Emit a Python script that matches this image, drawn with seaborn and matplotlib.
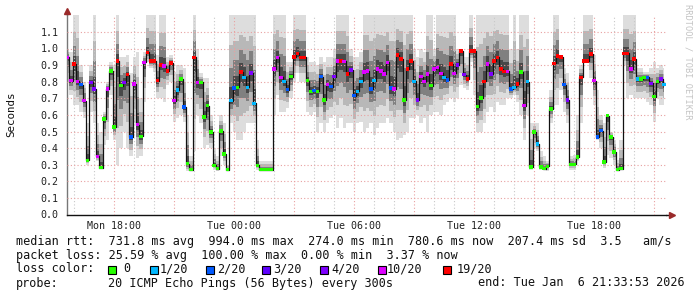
import numpy as np
import pandas as pd
import matplotlib
matplotlib.use("Agg")
import matplotlib.pyplot as plt
import seaborn as sns
from matplotlib.patches import Rectangle
from matplotlib.ticker import MultipleLocator, FuncFormatter
from matplotlib.lines import Line2D

# ---------------- data ----------------
START_H = 15.665          # first sample, hours since Mon 00:00
STEP_H = 1.0 / 6.0        # 10-minute samples

median_s = [
    0.946, 0.806, 0.906, 0.802, 0.782, 0.686, 0.326, 0.796, 0.756, 0.350, 0.282, 0.576,
    0.756, 0.866, 0.526, 0.926, 0.776, 0.796, 0.842, 0.466, 0.786, 0.542, 0.470, 0.916,
    0.976, 0.926, 0.926, 0.806, 0.902, 0.896, 0.866, 0.912, 0.686, 0.750, 0.816, 0.646,
    0.306, 0.270, 0.946, 0.796, 0.796, 0.586, 0.656, 0.496, 0.296, 0.276, 0.502, 0.366,
    0.270, 0.686, 0.762, 0.766, 0.860, 0.826, 0.766, 0.852, 0.670, 0.296, 0.270, 0.270,
    0.270, 0.270, 0.876, 0.946, 0.826, 0.802, 0.752, 0.830, 0.950, 0.970, 0.946, 0.946,
    0.806, 0.742, 0.746, 0.742, 0.830, 0.690, 0.782, 0.770, 0.830, 0.926, 0.926, 0.922,
    0.846, 0.872, 0.716, 0.742, 0.802, 0.860, 0.866, 0.756, 0.806, 0.876, 0.866, 0.846,
    0.916, 0.762, 0.756, 0.962, 0.936, 0.690, 0.876, 0.926, 0.802, 0.690, 0.830, 0.802,
    0.846, 0.776, 0.876, 0.886, 0.850, 0.826, 0.810, 0.906, 0.850, 0.902, 0.986, 0.842,
    0.816, 0.986, 0.986, 0.650, 0.702, 0.802, 0.906, 0.846, 0.926, 0.946, 0.876, 0.862,
    0.862, 0.756, 0.766, 0.786, 0.860, 0.656, 0.800, 0.286, 0.496, 0.426, 0.286, 0.276,
    0.290, 0.636, 0.910, 0.956, 0.950, 0.782, 0.690, 0.302, 0.302, 0.346, 0.826, 0.926,
    0.926, 0.966, 0.806, 0.466, 0.506, 0.316, 0.596, 0.466, 0.376, 0.270, 0.276, 0.970,
    0.970, 0.876, 0.936, 0.816, 0.816, 0.826, 0.826, 0.790, 0.710, 0.800, 0.816, 0.782,
]

loss_idx = [
    5, 5, 6, 5, 2, 5, 0, 4, 4, 5, 0, 0, 5, 0, 0, 6, 0, 4, 6, 2, 5, 5, 0, 5,
    6, 6, 6, 6, 6, 5, 6, 6, 5, 1, 0, 2,
    0, 0, 6, 5, 0, 0, 0, 0, 0, 0, 0, 0, 0, 1, 2, 0, 6, 1, 1, 4, 1, 0, 0, 0,
    0, 0, 5, 5, 5, 1, 2, 0, 6, 6, 6, 6,
    0, 0, 2, 0, 2, 0, 5, 2, 4, 5, 6, 5, 6, 4, 2, 1, 1, 5, 5, 2, 1, 5, 5, 5,
    5, 2, 5, 6, 6, 0, 6, 6, 1, 4, 5, 5,
    5, 0, 5, 5, 5, 1, 2, 6, 5, 4, 6, 4, 6, 6, 6, 0, 0, 6, 5, 4, 6, 6, 6, 6,
    5, 2, 1, 6, 0, 5, 1, 0, 0, 1, 0, 0,
    0, 0, 6, 6, 6, 2, 4, 0, 0, 0, 6, 6, 6, 6, 5, 2, 2, 0, 0, 0, 0, 0, 0, 6,
    6, 5, 6, 1, 0, 0, 2, 4, 0, 0, 4, 1,
]

smoke_hi = [
    1.00, 0.98, 1.20, 1.20, 0.90, 0.80, 0.55, 0.90, 1.20, 0.55, 0.50, 0.62,
    0.80, 0.92, 0.90, 1.20, 0.95, 0.95, 0.96, 0.85, 0.95, 0.98, 0.70, 0.98,
    1.20, 1.20, 1.20, 0.96, 1.20, 1.20, 0.95, 0.96, 0.86, 0.90, 0.90, 0.88,
    0.60, 0.35, 1.20, 1.00, 0.85, 0.82, 0.82, 0.60, 0.40, 0.35, 0.60, 0.55,
    0.30, 1.20, 1.20, 1.20, 1.20, 1.20, 1.20, 1.20, 1.20, 0.45, 0.32, 0.32,
    0.32, 0.32, 1.20, 1.20, 1.20, 1.20, 0.92, 0.92, 1.20, 1.20, 1.20, 1.20,
    0.95, 0.92, 0.92, 0.90, 0.95, 0.92, 0.95, 0.95, 1.00, 1.20, 1.20, 1.20,
    1.20, 1.00, 0.95, 0.95, 0.98, 1.20, 1.20, 1.20, 1.20, 1.20, 1.20, 1.20,
    1.20, 1.20, 1.20, 1.20, 1.20, 1.20, 1.20, 1.20, 1.00, 0.95, 1.00, 0.98,
    1.20, 1.20, 1.00, 1.20, 1.20, 1.20, 1.20, 1.20, 1.20, 1.00, 1.00, 0.95,
    0.95, 1.20, 0.98, 1.20, 1.20, 1.20, 1.20, 1.20, 1.20, 1.20, 1.20, 1.20,
    1.20, 1.00, 1.20, 1.00, 1.20, 1.20, 1.20, 0.55, 0.55, 0.55, 0.38, 0.35,
    0.32, 0.75, 1.20, 1.20, 0.96, 0.88, 0.85, 0.35, 0.36, 0.60, 0.90, 1.20,
    1.20, 1.20, 0.96, 0.75, 0.60, 0.55, 0.60, 0.50, 0.45, 0.33, 0.45, 1.20,
    1.20, 1.20, 1.20, 0.88, 0.88, 0.86, 0.86, 0.88, 0.92, 0.88, 0.90, 0.88,
]

smoke_lo = [
    0.80, 0.72, 0.66, 0.66, 0.62, 0.58, 0.30, 0.62, 0.55, 0.32, 0.28, 0.42,
    0.45, 0.72, 0.45, 0.30, 0.40, 0.50, 0.40, 0.35, 0.55, 0.34, 0.35, 0.68,
    0.92, 0.88, 0.86, 0.70, 0.70, 0.68, 0.78, 0.80, 0.56, 0.58, 0.60, 0.56,
    0.26, 0.26, 0.38, 0.60, 0.55, 0.40, 0.42, 0.40, 0.27, 0.26, 0.35, 0.30,
    0.26, 0.55, 0.50, 0.45, 0.45, 0.50, 0.55, 0.55, 0.55, 0.27, 0.26, 0.26,
    0.26, 0.26, 0.60, 0.72, 0.62, 0.62, 0.64, 0.70, 0.80, 0.85, 0.80, 0.80,
    0.62, 0.60, 0.62, 0.50, 0.55, 0.50, 0.55, 0.58, 0.60, 0.52, 0.58, 0.52,
    0.55, 0.55, 0.50, 0.55, 0.56, 0.50, 0.52, 0.55, 0.48, 0.52, 0.55, 0.55,
    0.58, 0.55, 0.50, 0.45, 0.46, 0.48, 0.50, 0.58, 0.58, 0.60, 0.55, 0.58,
    0.50, 0.60, 0.62, 0.62, 0.60, 0.66, 0.68, 0.70, 0.68, 0.70, 0.78, 0.76,
    0.75, 0.92, 0.72, 0.50, 0.50, 0.55, 0.62, 0.65, 0.62, 0.68, 0.66, 0.66,
    0.70, 0.70, 0.72, 0.68, 0.60, 0.45, 0.60, 0.27, 0.40, 0.38, 0.27, 0.27,
    0.26, 0.55, 0.66, 0.66, 0.75, 0.62, 0.55, 0.27, 0.27, 0.32, 0.55, 0.92,
    0.92, 0.82, 0.66, 0.45, 0.40, 0.28, 0.36, 0.34, 0.30, 0.26, 0.27, 0.90,
    0.70, 0.72, 0.70, 0.70, 0.70, 0.70, 0.68, 0.66, 0.56, 0.70, 0.66, 0.66,
]

loss_labels = ["0", "1/20", "2/20", "3/20", "4/20", "10/20", "19/20"]
loss_colors = ["#26ff00", "#00b8ff", "#0059ff", "#5e00ff", "#7e00ff", "#dd00ff", "#ff0000"]

x_tick_hours = [18, 24, 30, 36, 42]
y_ticks = [0.0, 0.1, 0.2, 0.3, 0.4, 0.5, 0.6, 0.7, 0.8, 0.9, 1.0, 1.1]

row_rtt = "median rtt:  731.8 ms avg  994.0 ms max  274.0 ms min  780.6 ms now  207.4 ms sd  3.5   am/s"
row_loss = "packet loss: 25.59 % avg  100.00 % max  0.00 % min  3.37 % now"
row_probe = "20 ICMP Echo Pings (56 Bytes) every 300s"
row_end = "end: Tue Jan  6 21:33:53 2026"

# ---------------- figure ----------------
sns.set_theme(style="white")
plt.rcParams["font.family"] = ["DejaVu Sans Mono", "DejaVu Sans"]

W, H = 697, 297
fig = plt.figure(figsize=(W / 100, H / 100), dpi=100)
fig.patch.set_facecolor("white")
ax = fig.add_axes([67 / W, 82.5 / H, 598.6 / W, 199.2 / H])
ax.set_facecolor("white")

n = len(median_s)
t = START_H + np.arange(n) * STEP_H
med = np.array(median_s)
lo = np.array(smoke_lo)
hi = np.array(smoke_hi)
df = pd.DataFrame({"t": t, "med": med, "loss": [loss_labels[i] for i in loss_idx]})

# smoke layers (outer light -> inner dark)
layers = [(1.0, "#dddddd"), (0.65, "#b8b8b8"), (0.38, "#808080"), (0.16, "#484848")]
for f, c in layers:
    ax.fill_between(t, med - f * (med - lo), med + f * (hi - med), step="mid",
                    color=c, lw=0, zorder=1)

sns.lineplot(data=df, x="t", y="med", drawstyle="steps-mid", color="#111111",
             lw=0.9, ax=ax, zorder=3, estimator=None)
sns.scatterplot(data=df, x="t", y="med", hue="loss",
                palette=dict(zip(loss_labels, loss_colors)), marker="s", s=6.5,
                linewidth=0, legend=False, ax=ax, zorder=4)

ax.set_xlim(15.635, 15.635 + 598.6 / 20)
ax.set_ylim(0, 1.2)
ax.set_xlabel("")
ax.set_ylabel("")

ax.xaxis.set_major_locator(MultipleLocator(3))
ax.xaxis.set_minor_locator(MultipleLocator(1))


def fmt(h, pos):
    h = int(round(h))
    if h % 6:
        return ""
    day = "Mon" if h < 24 else "Tue"
    return f"{day} {h % 24:02d}:00"


ax.xaxis.set_major_formatter(FuncFormatter(fmt))
ax.set_yticks(y_ticks)
ax.set_yticklabels([f"{v:.1f}" for v in y_ticks])

ax.set_axisbelow(False)
ax.grid(which="major", axis="both", color="#e8a0a0", ls=(0, (1, 2)), lw=0.8)
ax.grid(which="minor", axis="x", color="#c8c8c8", ls=(0, (1, 2)), lw=0.8)

ax.tick_params(axis="both", which="both", labelsize=7.2, colors="#222222")
ax.tick_params(axis="y", which="major", length=2, pad=4, color="#888888")
ax.tick_params(axis="x", which="major", length=2, pad=2.6, color="#888888")
ax.tick_params(axis="x", which="minor", length=1, color="#888888")
ax.tick_params(axis="x", which="major", labelcolor="#222222")

for s in ["top", "right"]:
    ax.spines[s].set_visible(False)
ax.spines["left"].set_color("#777777")
ax.spines["left"].set_linewidth(1.0)
ax.spines["bottom"].set_color("#111111")
ax.spines["bottom"].set_linewidth(1.0)

# axis extensions + arrows
ax.add_line(Line2D([0, 0], [1.0, 1.015], transform=ax.transAxes, color="#777777",
                   lw=1.0, clip_on=False))
ax.add_line(Line2D([1.0, 1.009], [0, 0], transform=ax.transAxes, color="#111111",
                   lw=1.0, clip_on=False))
ax.plot([0], [1.02], marker="^", ms=4.5, color="#9a2a2a", transform=ax.transAxes,
        clip_on=False, zorder=6)
ax.plot([1.01], [0], marker=">", ms=4.5, color="#9a2a2a", transform=ax.transAxes,
        clip_on=False, zorder=6)

# labels
fig.text(11 / W, 1 - 114 / H, "Seconds", rotation=90, va="center", ha="center",
         fontsize=7.8, color="#111111")
fig.text(688 / W, 1 - 4 / H, "RRDTOOL / TOBI OETIKER", rotation=270, va="top",
         ha="center", fontsize=6.2, color="#c4c4c4")

fs = 8.5
fig.text(16 / W, 1 - 241 / H, row_rtt, va="center", ha="left", fontsize=fs, color="#111111")
fig.text(16 / W, 1 - 255 / H, row_loss, va="center", ha="left", fontsize=fs, color="#111111")
fig.text(16 / W, 1 - 269 / H, "loss color:", va="center", ha="left", fontsize=fs, color="#111111")
box_x = [108, 150, 206, 262, 320, 378, 443]
lab_x = [123, 160, 217, 273, 331, 387, 457]
for bx, lx, lab, col in zip(box_x, lab_x, loss_labels, loss_colors):
    fig.add_artist(Rectangle((bx / W, 1 - 273.5 / H), 8 / W, 8 / H,
                             transform=fig.transFigure, facecolor=col,
                             edgecolor="black", lw=0.8))
    fig.text(lx / W, 1 - 269 / H, lab, va="center", ha="left", fontsize=fs, color="#111111")
fig.text(16 / W, 1 - 283 / H, "probe:", va="center", ha="left", fontsize=fs, color="#111111")
fig.text(108 / W, 1 - 283 / H, row_probe, va="center", ha="left", fontsize=fs, color="#111111")
fig.text(478 / W, 1 - 283 / H, row_end, va="center", ha="left", fontsize=fs, color="#111111")

fig.savefig("out.png", dpi=100, facecolor="white")
